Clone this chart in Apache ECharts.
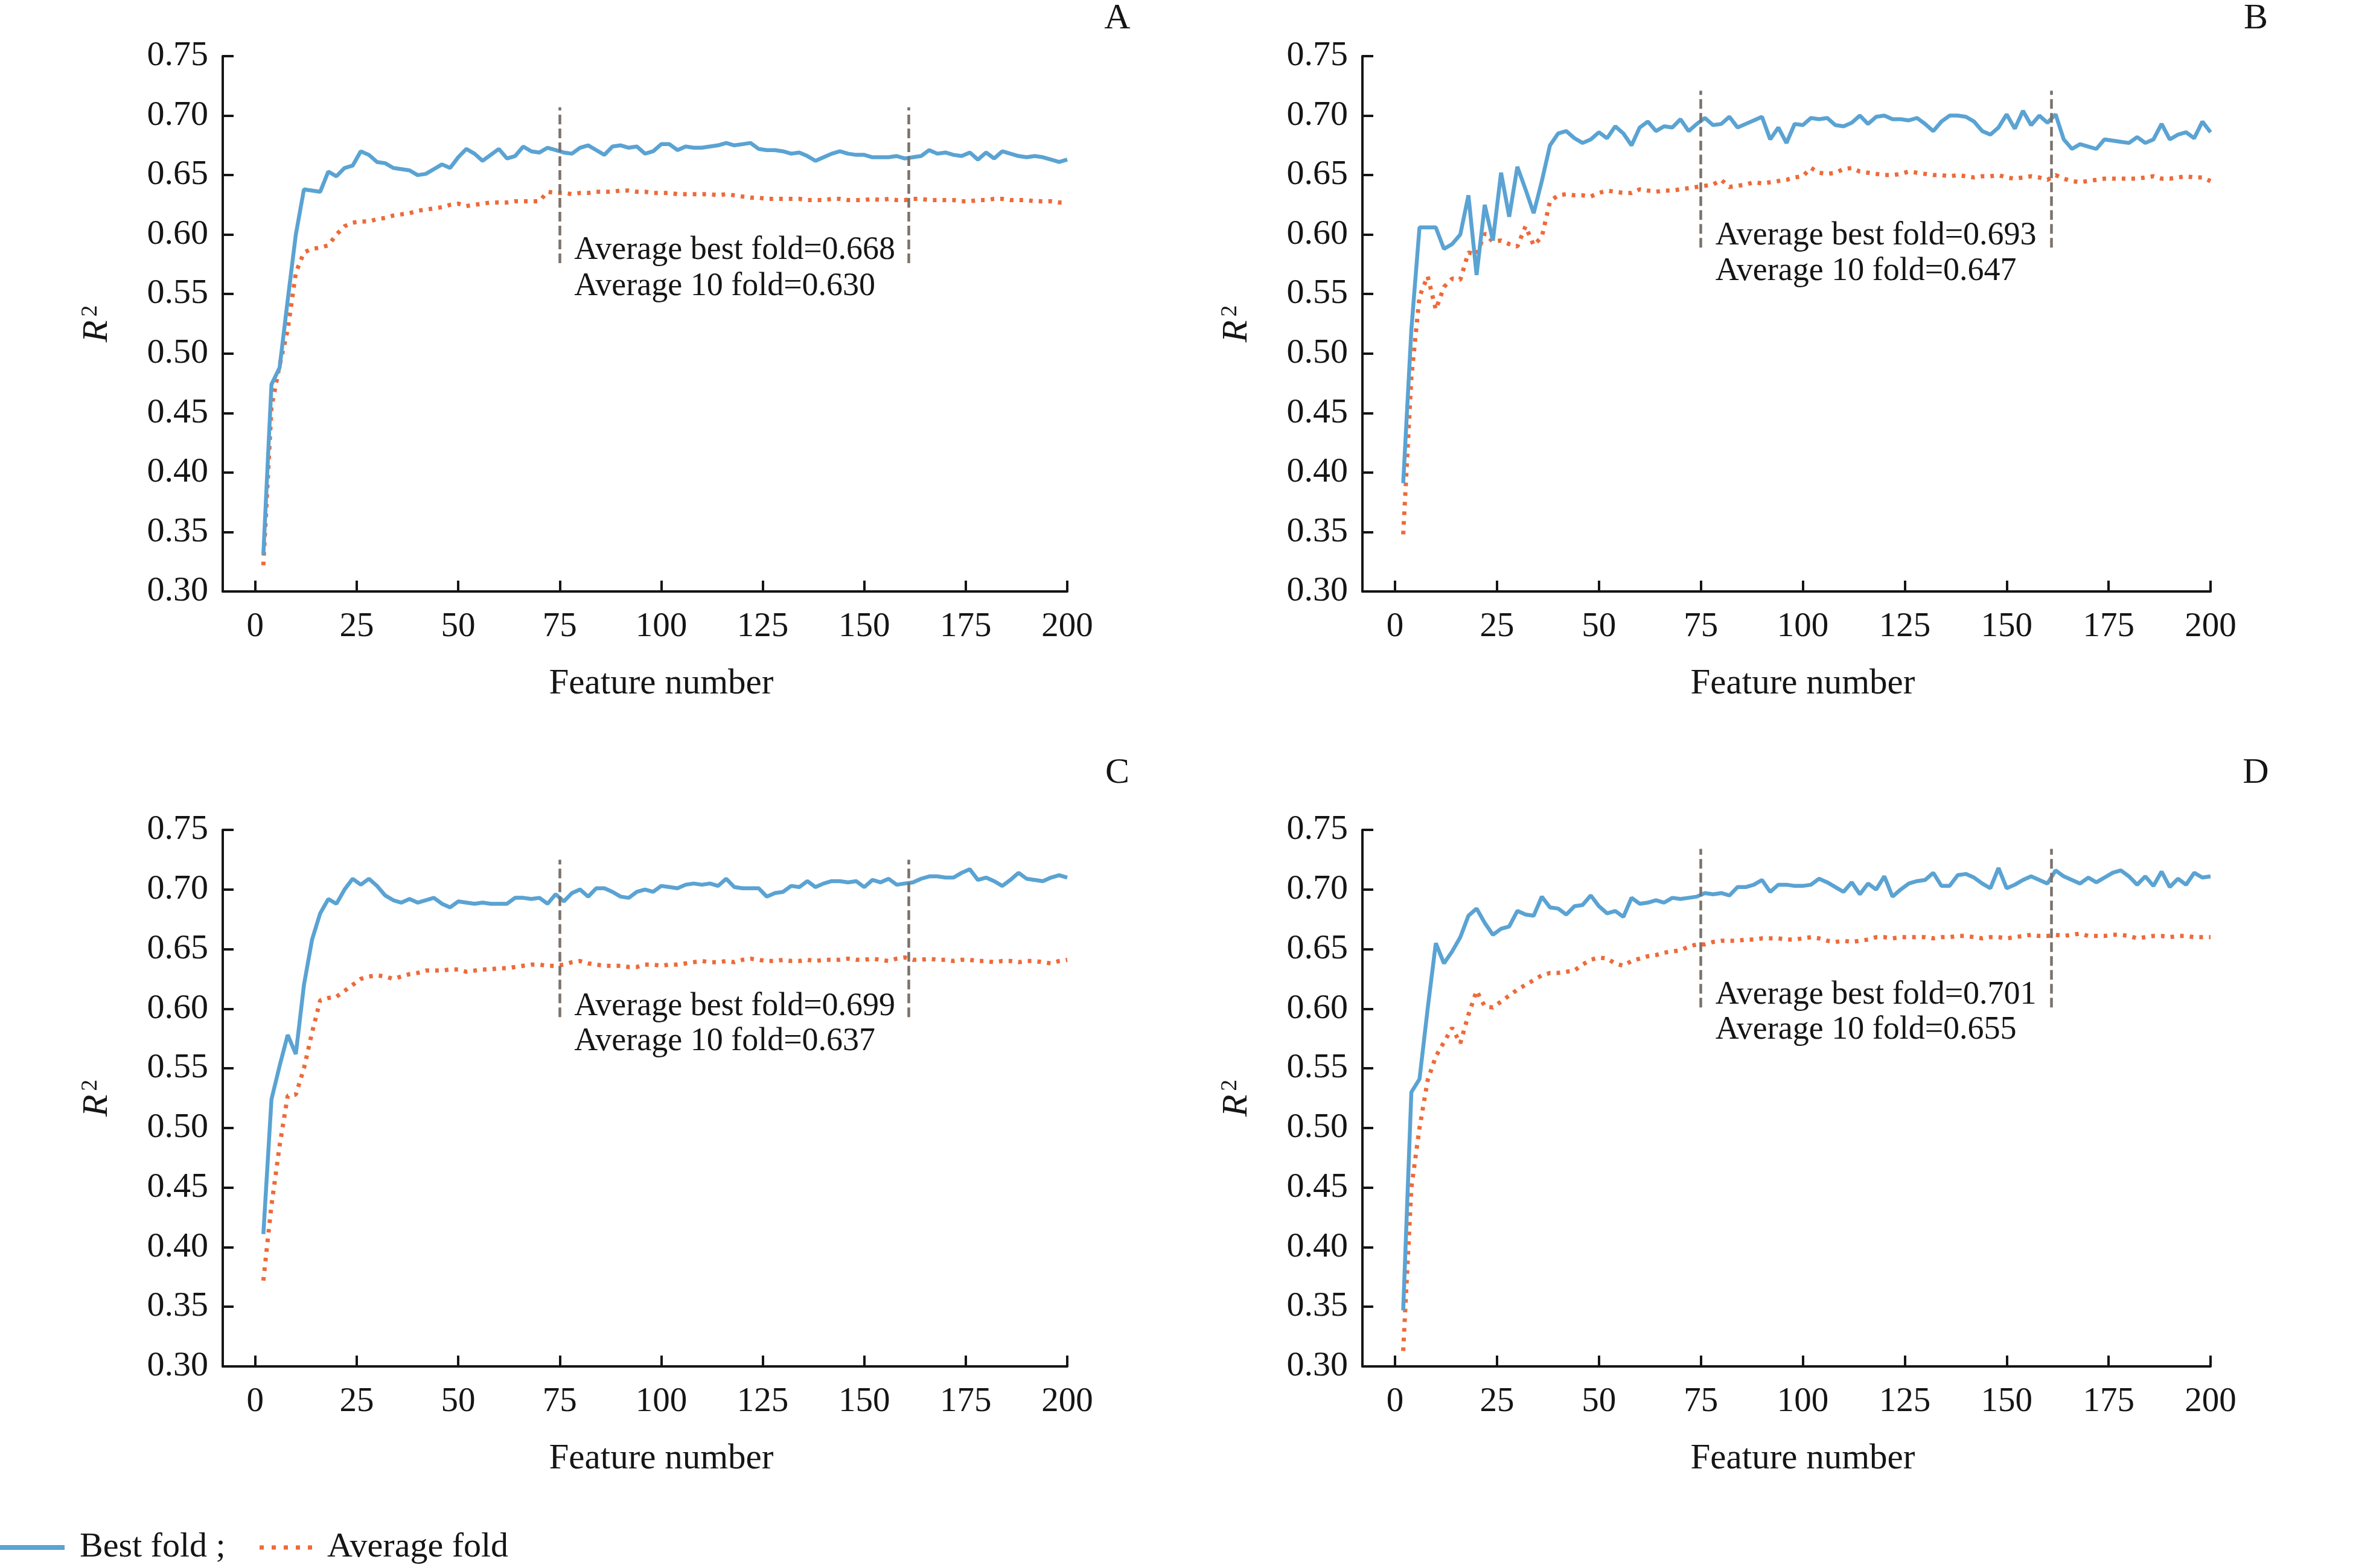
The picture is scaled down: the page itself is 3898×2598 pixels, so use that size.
<!DOCTYPE html>
<html><head><meta charset="utf-8">
<script src="https://cdn.jsdelivr.net/npm/echarts@6/dist/echarts.min.js"></script>
<style>html,body{margin:0;padding:0;background:#fff}#c{width:3898px;height:2598px}</style>
</head><body><div id="c"></div>
<script>
const featureNumbers = [2,4,6,8,10,12,14,16,18,20,
22,24,26,28,30,32,34,36,38,40,
42,44,46,48,50,52,54,56,58,60,
62,64,66,68,70,72,74,76,78,80,
82,84,86,88,90,92,94,96,98,100,
102,104,106,108,110,112,114,116,118,120,
122,124,126,128,130,132,134,136,138,140,
142,144,146,148,150,152,154,156,158,160,
162,164,166,168,170,172,174,176,178,180,
182,184,186,188,190,192,194,196,198,200];
const xTicks = [0,25,50,75,100,125,150,175,200];
const cutoffs = [75, 161];
const panelLetters = ['A','B','C','D'];
const avgBestFold = ['0.668','0.693','0.699','0.701'];
const avg10Fold = ['0.630','0.647','0.637','0.655'];

const bestA = [.331,.474,.488,.545,.600,.638,.637,.636,.653,.649,
.656,.658,.670,.667,.661,.660,.656,.655,.654,.650,
.651,.655,.659,.656,.665,.672,.668,.662,.667,.672,
.664,.666,.674,.670,.669,.673,.671,.669,.668,.673,
.675,.671,.667,.674,.675,.673,.674,.668,.670,.676,
.676,.671,.674,.673,.673,.674,.675,.677,.675,.676,
.677,.672,.671,.671,.670,.668,.669,.666,.662,.665,
.668,.670,.668,.667,.667,.665,.665,.665,.666,.664,
.665,.666,.671,.668,.669,.667,.666,.669,.663,.669,
.664,.670,.668,.666,.665,.666,.665,.663,.661,.663];
const avgA = [.322,.455,.490,.520,.568,.585,.588,.589,.591,.600,
.607,.610,.611,.611,.613,.614,.616,.617,.618,.620,
.621,.622,.623,.625,.626,.624,.625,.626,.627,.627,
.627,.628,.628,.628,.628,.636,.635,.635,.634,.635,
.635,.636,.636,.636,.637,.637,.636,.636,.635,.635,
.635,.634,.634,.634,.634,.634,.633,.634,.633,.632,
.631,.631,.630,.630,.630,.630,.630,.629,.629,.629,
.630,.630,.629,.629,.629,.630,.629,.630,.629,.629,
.630,.630,.629,.629,.629,.629,.628,.628,.629,.629,
.630,.630,.629,.629,.629,.628,.628,.628,.627,.627];
const bestB = [.391,.520,.606,.606,.606,.588,.592,.600,.633,.566,
.625,.595,.652,.615,.657,.638,.618,.645,.675,.685,
.687,.681,.677,.680,.686,.681,.691,.685,.675,.690,
.695,.687,.691,.690,.697,.687,.693,.698,.692,.693,
.699,.690,.693,.696,.699,.680,.690,.677,.693,.692,
.698,.697,.698,.692,.691,.694,.700,.693,.699,.700,
.697,.697,.696,.698,.693,.687,.695,.700,.700,.699,
.695,.687,.684,.690,.701,.689,.704,.692,.700,.694,
.701,.680,.672,.676,.674,.672,.680,.679,.678,.677,
.682,.677,.680,.693,.680,.684,.686,.681,.695,.686];
const avgB = [.348,.480,.548,.565,.537,.556,.563,.562,.585,.583,
.601,.594,.595,.592,.590,.607,.591,.598,.628,.633,
.634,.633,.633,.632,.635,.637,.636,.635,.635,.638,
.637,.636,.637,.637,.638,.639,.640,.641,.642,.646,
.640,.641,.642,.644,.643,.644,.645,.646,.648,.649,
.656,.652,.651,.652,.655,.656,.653,.652,.651,.650,
.650,.651,.653,.652,.651,.650,.650,.649,.650,.649,
.648,.649,.649,.650,.648,.647,.648,.649,.648,.646,
.650,.647,.645,.644,.645,.646,.647,.647,.647,.647,
.647,.648,.649,.647,.647,.648,.649,.648,.648,.645];
const bestC = [.411,.524,.552,.578,.562,.620,.658,.680,.692,.688,
.700,.709,.704,.709,.703,.695,.691,.689,.692,.689,
.691,.693,.688,.685,.690,.689,.688,.689,.688,.688,
.688,.693,.693,.692,.693,.688,.696,.690,.697,.700,
.694,.701,.701,.698,.694,.693,.698,.700,.698,.703,
.702,.701,.704,.705,.704,.705,.703,.709,.702,.701,
.701,.701,.694,.697,.698,.703,.702,.707,.702,.705,
.707,.707,.706,.707,.702,.708,.706,.709,.704,.705,
.706,.709,.711,.711,.710,.710,.714,.717,.708,.710,
.707,.703,.708,.714,.709,.708,.707,.710,.712,.710];
const avgC = [.372,.435,.485,.527,.528,.550,.580,.607,.609,.610,
.615,.620,.625,.627,.628,.627,.625,.627,.629,.630,
.632,.632,.632,.633,.633,.631,.632,.633,.633,.634,
.634,.635,.636,.637,.637,.636,.636,.637,.639,.640,
.638,.637,.636,.636,.636,.635,.635,.637,.637,.636,
.637,.637,.638,.639,.640,.639,.639,.640,.639,.641,
.642,.641,.640,.640,.641,.640,.640,.641,.640,.641,
.641,.641,.642,.641,.641,.642,.641,.640,.642,.643,
.641,.641,.642,.641,.641,.640,.641,.641,.640,.640,
.639,.640,.640,.639,.640,.640,.639,.638,.640,.641];
const bestD = [.347,.530,.541,.600,.655,.638,.648,.660,.678,.684,
.672,.662,.667,.669,.682,.679,.678,.694,.685,.684,
.679,.686,.687,.695,.686,.680,.682,.677,.693,.688,
.689,.691,.689,.693,.692,.693,.694,.697,.696,.697,
.695,.702,.702,.704,.708,.698,.704,.704,.703,.703,
.704,.709,.706,.702,.698,.706,.696,.705,.700,.711,
.694,.700,.705,.707,.708,.714,.703,.703,.712,.713,
.710,.705,.701,.718,.701,.704,.708,.711,.708,.705,
.716,.711,.708,.705,.710,.706,.710,.714,.716,.711,
.704,.711,.703,.715,.702,.709,.704,.714,.710,.711];
const avgD = [.313,.450,.500,.540,.560,.572,.584,.571,.595,.615,
.602,.601,.606,.611,.616,.620,.624,.628,.630,.630,
.631,.632,.637,.641,.643,.642,.638,.636,.640,.642,
.644,.645,.647,.648,.649,.652,.654,.654,.656,.657,
.657,.657,.658,.658,.659,.659,.659,.658,.658,.659,
.660,.659,.657,.656,.657,.656,.657,.658,.660,.660,
.659,.660,.660,.660,.660,.659,.660,.660,.661,.661,
.660,.659,.660,.660,.659,.660,.661,.662,.661,.661,
.662,.661,.662,.663,.661,.661,.661,.662,.662,.661,
.659,.660,.661,.661,.660,.661,.661,.660,.660,.660];

const FONT = '"Liberation Serif", "Times New Roman", Times, serif';
const BLUE = '#5aa3d3';
const ORANGE = '#ee6a3a';
const INK = '#151515';
const DASH = '#7b726b';

const layout = [
  {best: bestA, avg: avgA, grid: {left: 369, right: 2130, top: 93, bottom: 1618}, vline: [0.576, 0.707], textY: [0.5867, 0.5563], letter: [1851, 31]},
  {best: bestB, avg: avgB, grid: {left: 2257, right: 236, top: 93, bottom: 1618}, vline: [0.589, 0.721], textY: [0.599, 0.569], letter: [3737, 31]},
  {best: bestC, avg: avgC, grid: {left: 369, right: 2130, top: 1375, bottom: 334}, vline: [0.593, 0.725], textY: [0.6017, 0.5723], letter: [1851, 1281]},
  {best: bestD, avg: avgD, grid: {left: 2257, right: 236, top: 1375, bottom: 334}, vline: [0.601, 0.734], textY: [0.6113, 0.582], letter: [3737, 1281]}
];

const grids = [], xAxes = [], yAxes = [], series = [], graphics = [];
layout.forEach((p, i) => {
  grids.push(Object.assign({containLabel: false}, p.grid));
  xAxes.push({
    type: 'value', gridIndex: i, min: -8, max: 200,
    axisLine: {show: true, onZero: false, lineStyle: {color: INK, width: 4}},
    axisTick: {show: true, inside: true, length: 18, customValues: xTicks, lineStyle: {color: INK, width: 4}},
    axisLabel: {customValues: xTicks, margin: 31, fontSize: 57, fontFamily: FONT, color: INK},
    splitLine: {show: false},
    name: 'Feature number', nameLocation: 'middle', nameGap: 124,
    nameTextStyle: {fontSize: 59, fontFamily: FONT, color: INK, padding: [0, 0, 0, 54]}
  });
  yAxes.push({
    type: 'value', gridIndex: i, min: 0.3, max: 0.75, interval: 0.05,
    axisLine: {show: true, onZero: false, lineStyle: {color: INK, width: 4}},
    axisTick: {show: true, inside: true, length: 18, lineStyle: {color: INK, width: 4}},
    axisLabel: {margin: 24, fontSize: 58, fontFamily: FONT, color: INK, formatter: v => v.toFixed(2)},
    splitLine: {show: false},
    name: '{i|R}{s|2}', nameLocation: 'middle', nameGap: 178, nameRotate: 90,
    nameTextStyle: {
      rich: {
        i: {fontStyle: 'italic', fontSize: 60, fontFamily: FONT, color: INK},
        s: {fontSize: 38, fontFamily: FONT, color: INK, verticalAlign: 'top', padding: [0, 0, 0, 6]}
      }
    }
  });
  series.push({
    name: 'Best fold', type: 'line', xAxisIndex: i, yAxisIndex: i,
    data: featureNumbers.map((x, k) => [x, p.best[k]]),
    symbol: 'none', showSymbol: false, z: 3,
    lineStyle: {color: BLUE, width: 6.5}, itemStyle: {color: BLUE},
    markLine: {
      silent: true, symbol: ['none', 'none'], label: {show: false},
      lineStyle: {type: [16, 7], width: 4.5, color: DASH},
      data: cutoffs.map(c => [{coord: [c, p.vline[0]]}, {coord: [c, p.vline[1]]}])
    },
    markPoint: {
      silent: true, symbol: 'circle', symbolSize: 1, itemStyle: {color: 'rgba(0,0,0,0)'},
      label: {show: true, position: 'right', distance: 0, fontSize: 54, fontFamily: FONT, color: INK, formatter: d => d.name},
      data: [
        {name: 'Average best fold=' + avgBestFold[i], coord: [78.5, p.textY[0]]},
        {name: 'Average 10 fold=' + avg10Fold[i], coord: [78.5, p.textY[1]]}
      ]
    }
  });
  series.push({
    name: 'Average fold', type: 'line', xAxisIndex: i, yAxisIndex: i,
    data: featureNumbers.map((x, k) => [x, p.avg[k]]),
    symbol: 'none', showSymbol: false, z: 2,
    lineStyle: {color: ORANGE, width: 7, type: [6, 10], cap: 'butt'}, itemStyle: {color: ORANGE}
  });
  graphics.push({
    type: 'text', x: p.letter[0], y: p.letter[1],
    style: {text: panelLetters[i], fontSize: 60, fontFamily: FONT, fill: INK, align: 'center', verticalAlign: 'middle', textAlign: 'center', textVerticalAlign: 'middle'}
  });
});

const chart = echarts.init(document.getElementById('c'), null, {renderer: 'canvas'});
chart.setOption({
  backgroundColor: '#ffffff',
  animation: false,
  grid: grids, xAxis: xAxes, yAxis: yAxes, series: series,
  graphic: graphics,
  legend: [
    {data: [{name: 'Best fold', icon: 'rect', itemStyle: {color: BLUE}}], left: 0, top: 2535, padding: 0, itemWidth: 107, itemHeight: 8, selectedMode: false,
     formatter: () => 'Best fold ;',
     textStyle: {fontSize: 58, fontFamily: FONT, color: INK, padding: [0, 0, 0, 20]}},
    {data: [{name: 'Average fold', icon: 'path://M0,0h7v7h-7z M20,0h7v7h-7z M40,0h7v7h-7z M60,0h7v7h-7z M80,0h7v7h-7z', itemStyle: {color: ORANGE}}],
     left: 430, top: 2535, padding: 0, itemWidth: 87, itemHeight: 7, selectedMode: false,
     textStyle: {fontSize: 58, fontFamily: FONT, color: INK, padding: [0, 0, 0, 20]}}
  ]
});
</script>
</body></html>
